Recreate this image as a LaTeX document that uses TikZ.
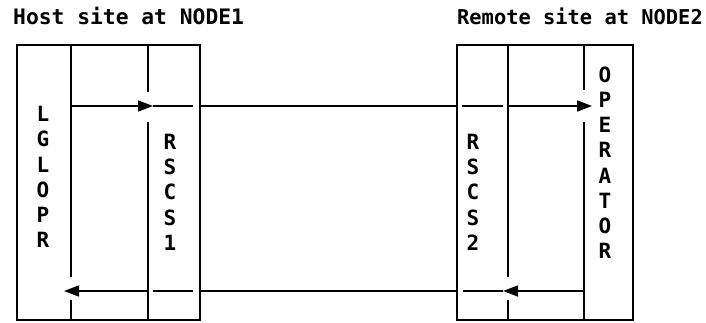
\documentclass[tikz,border=0pt]{standalone}
\usepackage{fontspec}
\setmonofont{DejaVu Sans Mono}
\usetikzlibrary{arrows.meta}
\begin{document}
\begin{tikzpicture}[x=1pt,y=-1pt,
  ln/.style={line width=1.6pt},
  arr/.style={line width=1.6pt,-{Triangle[length=15pt,width=11pt]}},
  lab/.style={font=\fontsize{21}{24}\selectfont\ttfamily\bfseries, inner sep=0pt}
]
\useasboundingbox (0,0) rectangle (706,323);
% titles
\node[lab,font=\fontsize{21.3}{24}\selectfont\ttfamily\bfseries,anchor=base west] (host) at (13,25) {Host site at NODE1};
\node[lab,font=\fontsize{20.4}{24}\selectfont\ttfamily\bfseries,anchor=base east] (remote) at (703,25) {Remote site at NODE2};
% boxes
\coordinate (L1) at (17,45);  \coordinate (L2) at (200,320);
\coordinate (R1) at (457,45); \coordinate (R2) at (633,320);
\draw[ln] (L1) rectangle (L2);
\draw[ln] (R1) rectangle (R2);
% inner dividers
\draw[ln] (71,45) -- (71,277);   \draw[ln] (71,300) -- (71,320);
\draw[ln] (148,45) -- (148,92);  \draw[ln] (148,122) -- (148,320);
\draw[ln] (508,45) -- (508,277); \draw[ln] (508,300) -- (508,320);
\draw[ln] (584,45) -- (584,90);  \draw[ln] (584,122) -- (584,320);
% top flow
\coordinate (t0) at (71,106);  \coordinate (t1) at (153,106);
\coordinate (t2) at (193,106); \coordinate (t3) at (200,106);
\coordinate (t4) at (457,106); \coordinate (t5) at (462,106);
\coordinate (t6) at (503,106); \coordinate (t7) at (508,106);
\coordinate (t8) at (592,106);
\draw[arr] (t0) -- (t1);
\draw[ln] (t1) -- (t2);
\draw[ln] (t3) -- (t4);
\draw[ln] (t5) -- (t6);
\draw[arr] (t7) -- (t8);
% bottom flow
\coordinate (b0) at (585,291); \coordinate (b1) at (503,291);
\coordinate (b2) at (463,291); \coordinate (b3) at (457,291);
\coordinate (b4) at (200,291); \coordinate (b5) at (193,291);
\coordinate (b6) at (153,291); \coordinate (b7) at (148,291);
\coordinate (b8) at (64,291);
\draw[arr] (b0) -- (b1);
\draw[ln] (b1) -- (b2);
\draw[ln] (b3) -- (b4);
\draw[ln] (b5) -- (b6);
\draw[arr] (b7) -- (b8);
% vertical labels
\foreach \c [count=\i from 0] in {L,G,L,O,P,R}
  \node[lab,anchor=base] (lg\i) at (43,122+25*\i) {\c};
\foreach \c [count=\i from 0] in {R,S,C,S,1}
  \node[lab,anchor=base] (ra\i) at (170,150+25*\i) {\c};
\foreach \c [count=\i from 0] in {R,S,C,S,2}
  \node[lab,anchor=base] (rb\i) at (473,150+25*\i) {\c};
\foreach \c [count=\i from 0] in {O,P,E,R,A,T,O,R}
  \node[lab,anchor=base] (op\i) at (605,83+25*\i) {\c};
\end{tikzpicture}
\end{document}
